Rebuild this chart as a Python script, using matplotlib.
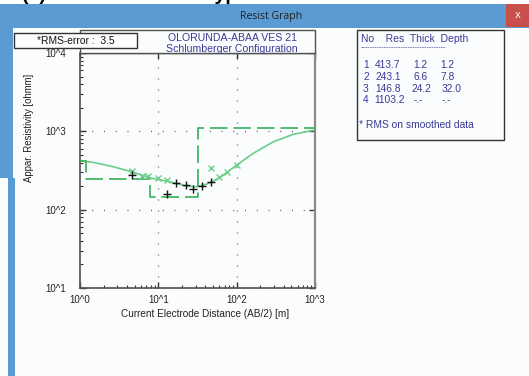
import matplotlib
matplotlib.use("Agg")
import matplotlib.pyplot as plt
from matplotlib.patches import Rectangle
from matplotlib.ticker import FixedLocator, FixedFormatter, LogLocator, NullFormatter
import numpy as np

# ---- data ----
# layered earth model
layer_no = [1, 2, 3, 4]
layer_res = [413.7, 243.1, 146.8, 1103.2]
layer_thick = [1.2, 6.6, 24.2]
layer_depth = [1.2, 7.8, 32.0]

# computed (smoothed) model response curve
curve_ab2 = [1.02, 1.48, 2.66, 4.57, 7.83, 14.1, 23.0, 30.9, 41.5, 61.4, 100, 163, 294, 530, 1000]
curve_rho = [418, 402, 353, 305, 255, 227, 200, 196, 212, 258, 371, 524, 736, 916, 1040]

# field measurements
field_ab2 = [4.66, 6.14, 7.45, 10.0, 13.0, 46.7, 60.1, 74.8, 100]
field_rho = [311, 269, 269, 253, 239, 343, 263, 305, 371]

# smoothed data points
smooth_ab2 = [4.66, 13.0, 16.8, 22.4, 28.0, 35.8, 47.1]
smooth_rho = [277, 157, 221, 204, 185, 200, 227]

rms_error = 3.5
x_ticks = [1, 10, 100, 1000]
x_tick_labels = ["10^0", "10^1", "10^2", "10^3"]
y_ticks = [10, 100, 1000, 10000]
y_tick_labels = ["10^1", "10^2", "10^3", "10^4"]

W, H = 529, 376
fig = plt.figure(figsize=(W / 100, H / 100), dpi=100)
fig.patch.set_facecolor("#fafcfd")
plt.rcParams["font.family"] = ["Liberation Sans", "DejaVu Sans"]

FS = 7.2

def fx(px):
    return px / W

def fy(py):
    return 1 - py / H

def rect_px(x0, y0, x1, y1, zorder=1, **kw):
    r = Rectangle((fx(x0), fy(y1)), fx(x1) - fx(x0), fy(y0) - fy(y1),
                  transform=fig.transFigure, zorder=zorder, **kw)
    fig.add_artist(r)
    return r

BLUE = "#5b9bd3"
TXT_BLUE = "#3a3a96"

# window chrome: heading of the page above, mostly hidden by the title bar
rect_px(0, 0, W, 4, facecolor="white", edgecolor="none", zorder=0.2)
fig.text(fx(22), fy(-0.5), "(c)", fontsize=14, fontweight="bold", va="baseline", ha="left",
         color="black", zorder=0.5)
fig.text(fx(205), fy(-0.5), "Type", fontsize=14, fontweight="bold", va="baseline", ha="left",
         color="black", zorder=0.5)
rect_px(0, 4, W, 28, facecolor=BLUE, edgecolor="none", zorder=2)
rect_px(0, 28, 13, 178, facecolor=BLUE, edgecolor="none", zorder=2)
rect_px(8, 178, 15, H, facecolor=BLUE, edgecolor="none", zorder=2)
rect_px(506, 4, W, 27, facecolor="#c9504a", edgecolor="none", zorder=2)
fig.text(fx(518), fy(16), "x", fontsize=8, color="white", ha="center", va="center",
         family=["Open Sans", "DejaVu Sans"], zorder=3)
fig.text(fx(271), fy(17), "Resist Graph", fontsize=7.6, color="#222222", ha="center", va="center",
         family=["Open Sans", "DejaVu Sans"], zorder=3)

# plot area
ax = fig.add_axes([fx(80), fy(288), fx(315) - fx(80), fy(53) - fy(288)])
ax.set_facecolor("#fafcfd")
ax.set_xscale("log")
ax.set_yscale("log")
ax.set_xlim(1, 1000)
ax.set_ylim(10, 10000)

# grid of dots at the inner decades
for gx in x_ticks[1:-1]:
    ax.axvline(gx, color="#555555", lw=0.9, linestyle=(0, (0.8, 8.0)), zorder=1)
for gy in y_ticks[1:-1]:
    ax.axhline(gy, color="#555555", lw=0.9, linestyle=(0, (0.8, 8.6)), zorder=1)

# layer model as step line
step_x = [1]
step_y = [layer_res[0]]
for d, r_next in zip(layer_depth, layer_res[1:]):
    step_x += [d, d]
    step_y += [step_y[-1], r_next]
step_x.append(1000)
step_y.append(layer_res[-1])
ax.plot(step_x, step_y, color="#35b055", lw=1.2, dashes=(10.5, 3.6), zorder=3)

# model response curve
ax.plot(curve_ab2, curve_rho, color="#6acf89", lw=1.2, zorder=2)

# field data and smoothed data
ax.plot(field_ab2, field_rho, linestyle="none", marker="x", ms=3.8, mew=1.0,
        color="#6fcf8e", zorder=4)
ax.plot(smooth_ab2, smooth_rho, linestyle="none", marker="+", ms=5.5, mew=1.0,
        color="#111111", zorder=5)

# axes styling
for side in ["left", "bottom"]:
    ax.spines[side].set_color("#505050")
    ax.spines[side].set_linewidth(1.2)
ax.spines["right"].set_color("#8a8a8a")
ax.spines["right"].set_linewidth(1.6)
ax.spines["top"].set_color("#505050")
ax.spines["top"].set_linewidth(1.0)

ax.xaxis.set_major_locator(FixedLocator(x_ticks))
ax.xaxis.set_major_formatter(FixedFormatter(x_tick_labels))
ax.yaxis.set_major_locator(FixedLocator(y_ticks))
ax.yaxis.set_major_formatter(FixedFormatter(y_tick_labels))
ax.xaxis.set_minor_locator(LogLocator(base=10, subs=np.arange(2, 10)))
ax.yaxis.set_minor_locator(LogLocator(base=10, subs=np.arange(2, 10)))
ax.xaxis.set_minor_formatter(NullFormatter())
ax.yaxis.set_minor_formatter(NullFormatter())

ax.tick_params(axis="both", which="major", direction="in", length=4, width=1.0,
               color="#333333", labelsize=7.0, labelcolor="#222222",
               top=True, right=True)
ax.tick_params(axis="both", which="minor", direction="in", length=2, width=0.8,
               color="#333333", top=False, right=False)
ax.tick_params(axis="x", which="major", pad=5)
ax.tick_params(axis="y", which="major", pad=10)

fig.text(fx(205), fy(314), "Current Electrode Distance (AB/2) [m]", fontsize=FS,
         color="#222222", ha="center", va="center")
fig.text(fx(29), fy(128), "Appar. Resistivity [ohmm]", fontsize=6.9, rotation=90,
         color="#222222", ha="center", va="center")

# title box above the plot
rect_px(80, 30, 315, 53, facecolor="#fafcfd", edgecolor="#505050", lw=1.0, zorder=1)
fig.text(fx(232), fy(38), "OLORUNDA-ABAA VES 21", fontsize=7.6, color=TXT_BLUE,
         ha="center", va="center")
fig.text(fx(232), fy(49), "Schlumberger Configuration", fontsize=7.6, color=TXT_BLUE,
         ha="center", va="center")

# RMS error box
rect_px(14, 33, 137, 48, facecolor="#fafcfd", edgecolor="#333333", lw=1.0, zorder=5)
fig.text(fx(76), fy(40.5), f"*RMS-error :  {rms_error}", fontsize=7.4, color="#111111",
         ha="center", va="center", zorder=6)

# layer table box
rect_px(357, 30, 504, 140, facecolor="#fafcfd", edgecolor="#333333", lw=1.0)
fig.text(fx(361), fy(39.5), "No    Res  Thick  Depth", fontsize=7.5, color=TXT_BLUE,
         ha="left", va="center")
fig.text(fx(361), fy(48), "-" * 36, fontsize=5.0, color=TXT_BLUE, ha="left", va="center")
row_y = [65, 77, 88.5, 100]
for i, (n, r) in enumerate(zip(layer_no, layer_res)):
    yy = fy(row_y[i])
    fig.text(fx(363), yy, str(n), fontsize=FS + 0.2, color=TXT_BLUE, ha="left", va="center")
    fig.text(fx(374 if r >= 1000 else 375), yy, f"{r:.1f}", fontsize=FS + 0.2, color=TXT_BLUE,
             ha="left", va="center")
    if i < len(layer_thick):
        t = layer_thick[i]
        d = layer_depth[i]
        fig.text(fx(411 if t >= 10 else 413), yy, f"{t:.1f}", fontsize=FS + 0.2, color=TXT_BLUE,
                 ha="left", va="center")
        fig.text(fx(442 if d >= 10 else 440), yy, f"{d:.1f}", fontsize=FS + 0.2, color=TXT_BLUE,
                 ha="left", va="center")
    else:
        fig.text(fx(414), yy, "-.-", fontsize=FS + 0.2, color=TXT_BLUE, ha="left", va="center")
        fig.text(fx(442), yy, "-.-", fontsize=FS + 0.2, color=TXT_BLUE, ha="left", va="center")
fig.text(fx(359), fy(125), "* RMS on smoothed data", fontsize=FS + 0.2, color=TXT_BLUE,
         ha="left", va="center")

fig.savefig("out.png", dpi=100, facecolor=fig.get_facecolor())
